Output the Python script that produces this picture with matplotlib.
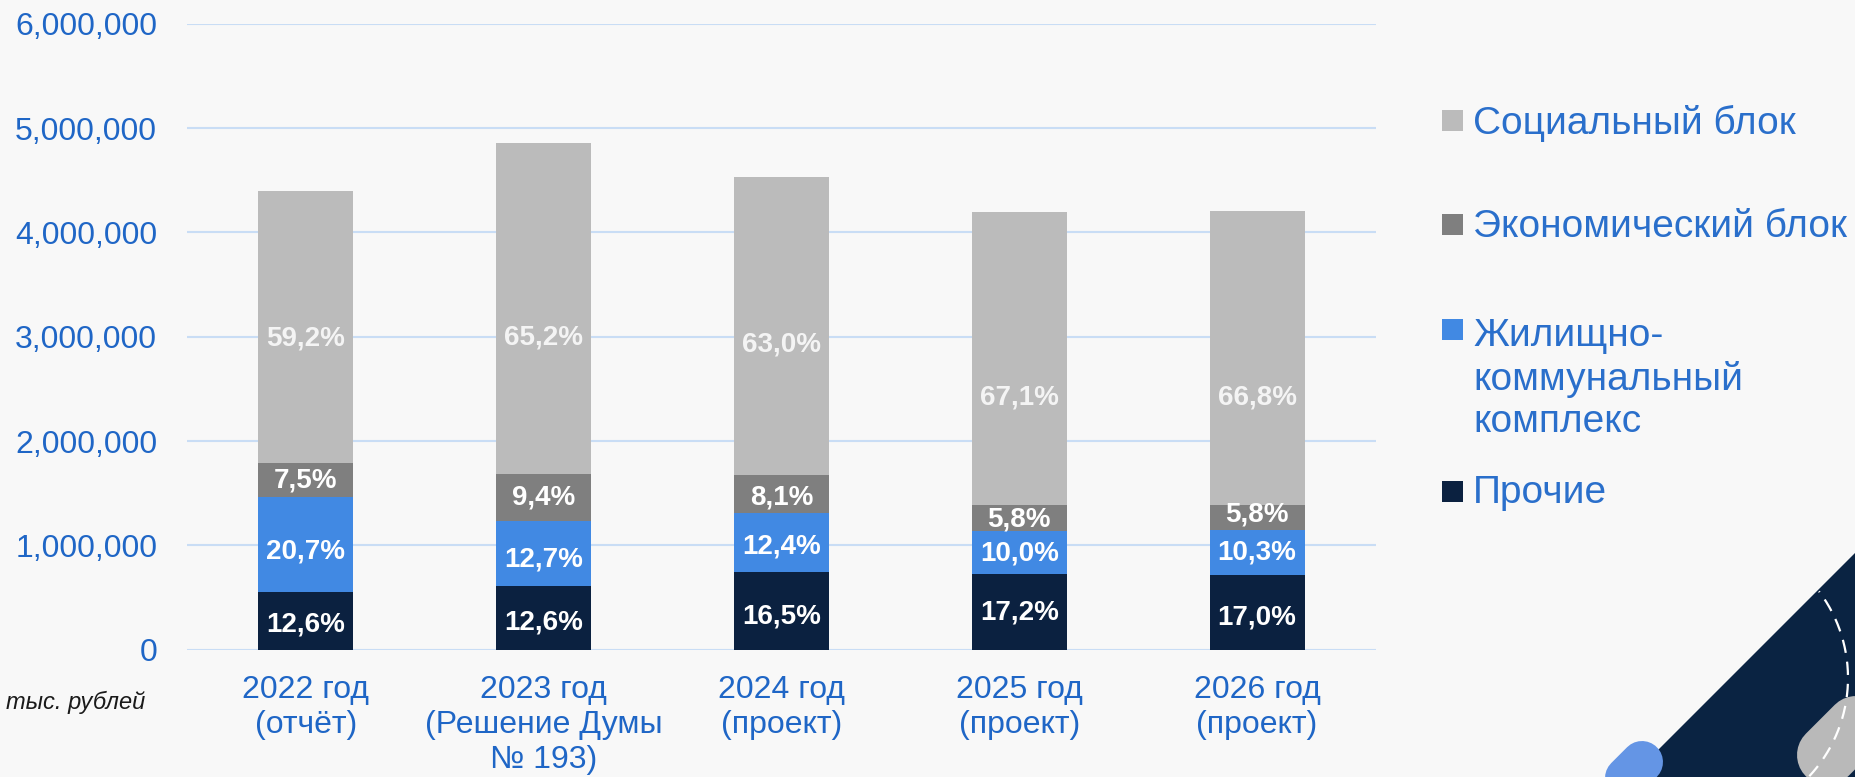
import numpy as np
import matplotlib
matplotlib.use("Agg")
import matplotlib.pyplot as plt
from matplotlib.patches import Polygon, Rectangle
from matplotlib.ticker import FuncFormatter

plt.rcParams["font.family"] = ["Liberation Sans", "DejaVu Sans"]

# ---- data (тыс. рублей) ----
categories = ["2022 год\n(отчёт)", "2023 год\n(Решение Думы\n№ 193)",
              "2024 год\n(проект)", "2025 год\n(проект)", "2026 год\n(проект)"]
series_names = ["Прочие", "Жилищно-\nкоммунальный\nкомплекс",
                "Экономический блок", "Социальный блок"]

prochie = [556000, 613000, 747000, 721000, 714000]
zhkh    = [905000, 618000, 561000, 419000, 433000]
econ    = [326000, 457000, 367000, 243000, 244000]
social  = [2613000, 3173000, 2851000, 2808000, 2812000]

pct_prochie = [12.6, 12.6, 16.5, 17.2, 17.0]
pct_zhkh    = [20.7, 12.7, 12.4, 10.0, 10.3]
pct_econ    = [7.5, 9.4, 8.1, 5.8, 5.8]
pct_social  = [59.2, 65.2, 63.0, 67.1, 66.8]

yticks = [0, 1000000, 2000000, 3000000, 4000000, 5000000, 6000000]

# ---- styles ----
BG = "#F8F8F8"
colors = ["#0B2140", "#4189E3", "#7F7F7F", "#BBBBBB"]
TICK_BLUE = "#1F66C6"
LEG_BLUE = "#2A6FCB"
GRID = "#C9DDF5"
NAVY = "#0A2342"
# where the label sits inside each segment (fraction of its height)
label_frac = [[0.43, 0.43, 0.42, 0.5, 0.43],
              [0.43, 0.4, 0.43, 0.48, 0.5],
              [0.5, 0.5, 0.42, 0.45, 0.6],
              [0.458, 0.412, 0.438, 0.369, 0.365]]

W, H = 1856, 777
fig = plt.figure(figsize=(W / 100, H / 100), dpi=100, facecolor=BG)

# background decoration, pixel coordinates
deco = fig.add_axes([0, 0, 1, 1], zorder=0)
deco.set_xlim(0, W)
deco.set_ylim(H, 0)
deco.axis("off")
deco.add_patch(Polygon([(1856, 552), (1856, 777), (1631, 777)], closed=True,
                       facecolor=NAVY, edgecolor="none"))
deco.plot([1642, 1532], [762, 872], color="#6495E5", lw=42 * 0.72,
          solid_capstyle="round")
deco.plot([1827, 1947], [755, 635], color="#B9B9B9", lw=60 * 0.72,
          solid_capstyle="round")
t = np.linspace(np.radians(-43), np.radians(37), 200)
deco.plot(1704 + 144 * np.cos(t), 678 - 144 * np.sin(t), color="white",
          lw=1.6, dashes=(6, 4))

# main chart
ax = fig.add_axes([187 / W, 127.3 / H, 1189 / W, 626 / H], zorder=1)
ax.set_facecolor("none")
x = np.arange(len(categories))
series = [prochie, zhkh, econ, social]
pcts = [pct_prochie, pct_zhkh, pct_econ, pct_social]
bottom = np.zeros(len(categories))
for i, vals in enumerate(series):
    vals = np.array(vals, dtype=float)
    ax.bar(x, vals, bottom=bottom, width=0.4, color=colors[i],
           edgecolor="none", zorder=3)
    for j in range(len(x)):
        y = bottom[j] + vals[j] * label_frac[i][j]
        txt = f"{pcts[i][j]:.1f}%".replace(".", ",")
        ax.text(x[j], y, txt, ha="center", va="center", fontsize=20,
                fontweight="bold", color="#FFFFFF" if i < 3 else "#F4F4F4",
                zorder=4)
    bottom += vals

ax.set_xlim(-0.5, 4.5)
ax.set_ylim(0, 6000000)
ax.set_yticks(yticks)
ax.yaxis.set_major_formatter(FuncFormatter(lambda v, p: f"{v:,.0f}"))
ax.yaxis.grid(True, color=GRID, lw=1.5)
ax.set_axisbelow(True)
for s in ax.spines.values():
    s.set_visible(False)
ax.tick_params(axis="y", length=0, pad=21.5, labelsize=23, labelcolor=TICK_BLUE)
ax.set_xticks(x, categories)
ax.tick_params(axis="x", length=0, pad=18, labelsize=23, labelcolor=TICK_BLUE)
for lbl in ax.get_xticklabels():
    lbl.set_linespacing(1.22)

fig.text(6 / W, 1 - 702 / H, "тыс. рублей", fontsize=17, style="italic",
         color="#1A1A1A", ha="left", va="center")

# legend drawn by hand (PowerPoint-like spacing)
leg_order = [3, 2, 1, 0]
sq_top = [110, 214, 319, 481]
txt_y = [123, 227, 379, 493]
for k, idx in enumerate(leg_order):
    deco.add_patch(Rectangle((1442, sq_top[k]), 21, 21, facecolor=colors[idx],
                             edgecolor="none"))
    deco.text(1473, txt_y[k], series_names[idx], fontsize=28, color=LEG_BLUE,
              ha="left", va="center", linespacing=1.22)

fig.savefig("out.png", dpi=100, facecolor=BG)
